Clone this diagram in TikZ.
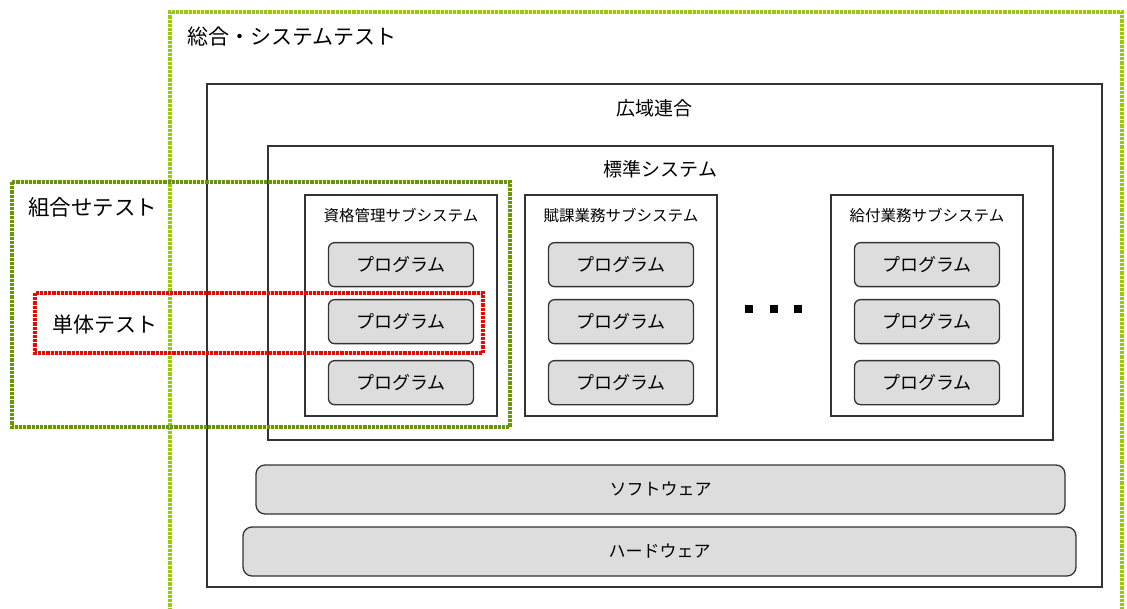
\documentclass[tikz,border=0pt]{standalone}
\usepackage{fontspec}
\setmainfont{Noto Sans CJK JP}
\usetikzlibrary{positioning}
\definecolor{progfill}{HTML}{DDDDDD}
\definecolor{linegray}{HTML}{333333}
\definecolor{lightgreen}{HTML}{99CC00}
\definecolor{darkgreen}{HTML}{669900}
\definecolor{testred}{HTML}{FF0000}
\tikzset{
  layer/.style={draw=linegray,line width=1.4pt,inner sep=0pt,outer sep=0pt},
  subsys/.style={layer,minimum width=192pt,minimum height=221pt},
  prog/.style={draw=linegray,line width=1.3pt,fill=progfill,rounded corners=6pt,
    minimum width=145pt,minimum height=44pt,inner sep=0pt,font=\fontsize{18}{20}\selectfont},
  base/.style={prog,rounded corners=9pt,minimum height=49pt,font=\fontsize{17}{19}\selectfont},
  label/.style={inner sep=0pt},
  testframe/.style={line width=4.5pt,dash pattern=on 3.2pt off 1pt},
  sqdot/.style={fill=black,inner sep=0pt,minimum size=8pt}
}
\begin{document}
\begin{tikzpicture}[x=1pt,y=-1pt,node distance=57pt,on grid]
\useasboundingbox (0,0) rectangle (1127,609);
% layers
\node[layer,minimum width=895pt,minimum height=503pt] (kouiki) at (654.5,335.5) {};
\node[label,font=\fontsize{19}{21}\selectfont] (kouikilabel) [below=15pt of kouiki.north] {広域連合};
\node[layer,minimum width=785pt,minimum height=294pt] (hyoujun) at (660.5,293) {};
\node[label,font=\fontsize{19}{21}\selectfont] (hyoujunlabel) [below=14pt of hyoujun.north] {標準システム};

% subsystems
\node[subsys] (shikaku) at (401,305.5) {};
\node[subsys] (fuka) at (621,305.5) {};
\node[subsys] (kyufu) at (927,305.5) {};
\node[label,font=\fontsize{15.5}{17}\selectfont] (shikakulabel) [below=13pt of shikaku.north] {資格管理サブシステム};
\node[label,font=\fontsize{15.5}{17}\selectfont] (fukalabel) [below=13pt of fuka.north] {賦課業務サブシステム};
\node[label,font=\fontsize{15.5}{17}\selectfont] (kyufulabel) [below=13pt of kyufu.north] {給付業務サブシステム};

% programs
\node[prog] (shikaku1) [below=47pt of shikaku.north] {プログラム};
\node[prog] (shikaku2) [below=of shikaku1] {プログラム};
\node[prog] (shikaku3) [below=61pt of shikaku2] {プログラム};
\node[prog] (fuka1) [below=47pt of fuka.north] {プログラム};
\node[prog] (fuka2) [below=of fuka1] {プログラム};
\node[prog] (fuka3) [below=61pt of fuka2] {プログラム};
\node[prog] (kyufu1) [below=47pt of kyufu.north] {プログラム};
\node[prog] (kyufu2) [below=of kyufu1] {プログラム};
\node[prog] (kyufu3) [below=61pt of kyufu2] {プログラム};

% more subsystems
\node[sqdot] (dot1) at (749,309) {};
\node[sqdot] (dot2) [right=24.5pt of dot1] {};
\node[sqdot] (dot3) [right=24.5pt of dot2] {};

% software and hardware
\node[base,minimum width=809pt] (software) at (660.5,489.5) {ソフトウェア};
\node[base,minimum width=833pt] (hardware) at (659.5,551.5) {ハードウェア};

% test ranges
\draw[testframe,lightgreen] (170,615) -- (170,12) -- (1122,12) -- (1122,615);
\node[label,anchor=west,font=\fontsize{21}{23}\selectfont] (sougoulabel) at (187,37) {総合・システムテスト};
\draw[testframe,darkgreen] (12,182) rectangle (510,427);
\node[label,anchor=west,font=\fontsize{21.5}{23}\selectfont] (kumiawaselabel) at (28,207) {組合せテスト};
\draw[testframe,testred] (35,293) rectangle (483,353);
\node[label,anchor=west,font=\fontsize{21}{23}\selectfont] (tantailabel) at (52,325) {単体テスト};
\end{tikzpicture}
\end{document}
